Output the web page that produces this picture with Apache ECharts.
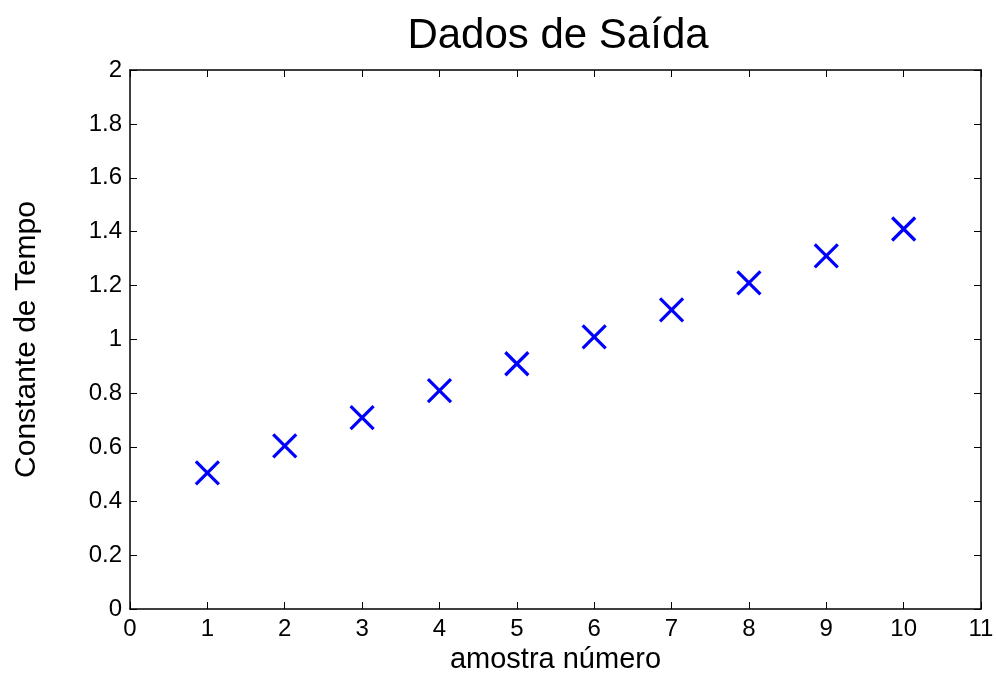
<!DOCTYPE html>
<html>
<head>
<meta charset="utf-8">
<script src="https://cdn.jsdelivr.net/npm/echarts@6/dist/echarts.min.js"></script>
<style>
  html, body { margin: 0; padding: 0; background: #fff; }
  #chart { width: 996px; height: 675px; }
</style>
</head>
<body>
<div id="chart"></div>
<script>
// Sample index and measured time constant
const amostras = [1, 2, 3, 4, 5, 6, 7, 8, 9, 10];
const constantes = [0.505, 0.605, 0.71, 0.81, 0.91, 1.01, 1.11, 1.21, 1.31, 1.41];
const xTicks = [0, 1, 2, 3, 4, 5, 6, 7, 8, 9, 10, 11];
const yTicks = [0, 0.2, 0.4, 0.6, 0.8, 1, 1.2, 1.4, 1.6, 1.8, 2];

const FONT = 'Liberation Sans, Arial, Helvetica, sans-serif';
const points = amostras.map((a, i) => [a, constantes[i]]);

const chart = echarts.init(document.getElementById('chart'), null, { renderer: 'canvas' });

const tickStyle = { show: true, inside: true, length: 7, lineStyle: { color: '#000', width: 1 } };
const lineStyle = { show: true, onZero: false, lineStyle: { color: '#000', width: 1.5 } };

chart.setOption({
  backgroundColor: '#fff',
  animation: false,
  title: {
    text: 'Dados de Saída',
    left: 553, top: 10, textAlign: 'center',
    textStyle: { fontFamily: FONT, fontSize: 42, fontWeight: 'normal', color: '#000' }
  },
  grid: {
    left: 130, top: 70, right: 15, bottom: 66,
    containLabel: false, outerBoundsMode: 'none'
  },
  xAxis: [{
    type: 'value', min: xTicks[0], max: xTicks[xTicks.length - 1], interval: 1,
    position: 'bottom',
    name: 'amostra número', nameLocation: 'middle', nameGap: 36,
    nameTextStyle: { fontFamily: FONT, fontSize: 29, color: '#000' },
    axisLine: lineStyle, axisTick: tickStyle,
    axisLabel: { fontFamily: FONT, fontSize: 24, color: '#000', margin: 8 },
    splitLine: { show: false }
  }, {
    type: 'value', min: xTicks[0], max: xTicks[xTicks.length - 1], interval: 1,
    position: 'top',
    axisLine: lineStyle, axisTick: tickStyle,
    axisLabel: { show: false }, splitLine: { show: false }
  }],
  yAxis: [{
    type: 'value', min: yTicks[0], max: yTicks[yTicks.length - 1], interval: 0.2,
    position: 'left',
    name: 'Constante de Tempo', nameLocation: 'middle', nameGap: 88,
    nameTextStyle: { fontFamily: FONT, fontSize: 30, color: '#000' },
    axisLine: lineStyle, axisTick: tickStyle,
    axisLabel: {
      fontFamily: FONT, fontSize: 24, color: '#000', margin: 8,
      formatter: v => String(Math.round(v * 10) / 10)
    },
    splitLine: { show: false }
  }, {
    type: 'value', min: yTicks[0], max: yTicks[yTicks.length - 1], interval: 0.2,
    position: 'right',
    axisLine: lineStyle, axisTick: tickStyle,
    axisLabel: { show: false }, splitLine: { show: false }
  }],
  series: [{
    type: 'scatter',
    data: points,
    symbol: 'path://M0,0L10,10M10,0L0,10',
    symbolSize: 23,
    itemStyle: { color: 'rgba(0,0,0,0)', borderColor: '#0000ff', borderWidth: 3.2, opacity: 1 }
  }]
});
</script>
</body>
</html>
